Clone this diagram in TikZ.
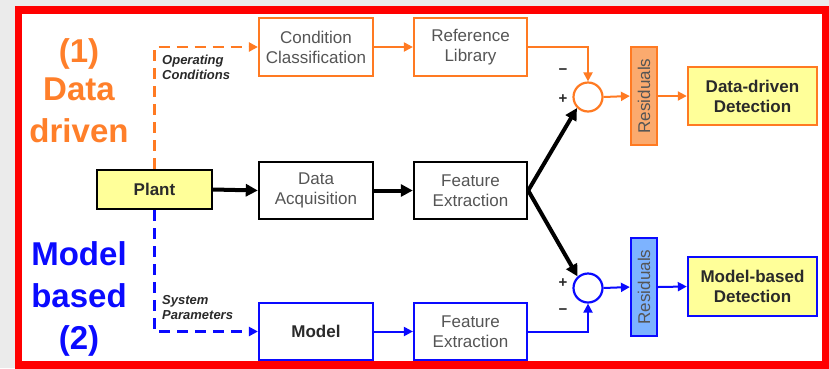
\documentclass[tikz,border=0pt]{standalone}
\usepackage{fontspec}
\setmainfont{Liberation Sans}
\usetikzlibrary{arrows.meta}
\definecolor{org}{HTML}{FF7A22}
\definecolor{orgtxt}{HTML}{FF7F2A}
\definecolor{orgfill}{HTML}{FBAA6E}
\definecolor{blu}{HTML}{0A0AFF}
\definecolor{blufill}{HTML}{7DB3FF}
\definecolor{ylw}{HTML}{FFFF99}
\definecolor{txtgray}{HTML}{555555}
\definecolor{txtdark}{HTML}{2A2A2A}
\definecolor{bggray}{HTML}{EBEBEB}
\begin{document}
\begin{tikzpicture}[x=1pt,y=-1pt,
  boxbase/.style={draw, rectangle, inner sep=0pt, align=center,
     font=\fontsize{17}{20}\selectfont},
  obox/.style={boxbase, draw=org, line width=2.2pt, fill=white, text=txtgray},
  kbox/.style={boxbase, draw=black, line width=2.4pt, fill=white, text=txtgray},
  bbox/.style={boxbase, draw=blu, line width=2.2pt, fill=white, text=txtdark},
  ydet/.style={boxbase, line width=2.4pt, fill=ylw, text=txtdark, font=\fontsize{17}{20}\selectfont\bfseries},
  resbox/.style={boxbase, line width=2.2pt, text=txtgray, rotate=90, minimum width=98pt, minimum height=26pt},
  sumc/.style={circle, draw, line width=2.2pt, fill=white, minimum size=29pt, inner sep=0pt},
  oarr/.style={draw=org, line width=2pt, -{Triangle[length=9pt,width=9pt]}},
  barr/.style={draw=blu, line width=2pt, -{Triangle[length=9pt,width=9pt]}},
  karr/.style={draw=black, line width=4pt, -{Triangle[length=12pt,width=12pt]}},
  dashline/.style={line width=2.4pt, dash pattern=on 11pt off 7pt},
  bigtxt/.style={font=\fontsize{33}{38}\selectfont\bfseries, anchor=base},
  smalllab/.style={font=\fontsize{13}{15}\selectfont\bfseries\itshape, text=txtdark, align=left, anchor=north west, inner sep=0pt},
  signtxt/.style={font=\fontsize{15}{15}\selectfont\bfseries, text=txtdark}
]
\useasboundingbox (0,0) rectangle (829,368);
\fill[bggray] (0,0) rectangle (829,368);
\draw[red, line width=7.5pt, fill=white] (18.5,10) rectangle (825.5,365);

% left titles
\node[bigtxt, text=orgtxt] (t1a) at (79,62) {(1)};
\node[bigtxt, text=orgtxt] (t1b) at (79,100) {Data};
\node[bigtxt, text=orgtxt] (t1c) at (79,142) {driven};
\node[bigtxt, text=blu] (t2a) at (79,265) {Model};
\node[bigtxt, text=blu] (t2b) at (79,307) {based};
\node[bigtxt, text=blu] (t2c) at (79,349) {(2)};

% boxes
\node[kbox, fill=ylw, text=txtdark, font=\fontsize{17}{20}\selectfont\bfseries, minimum width=115pt, minimum height=39pt] (plant) at (154.5,189.5) {Plant};
\node[obox, minimum width=114pt, minimum height=58pt] (cc) at (316,47) {Condition\\Classification};
\node[obox, minimum width=113pt, minimum height=58pt] (rl) at (470.5,47) {Reference\\Library};
\node[kbox, minimum width=114pt, minimum height=57pt] (da) at (316,190.5) {Data\\Acquisition};
\node[kbox, minimum width=113pt, minimum height=57pt] (fe) at (470.5,190.5) {Feature\\Extraction};
\node[bbox, font=\fontsize{17}{20}\selectfont\bfseries, minimum width=114pt, minimum height=57pt] (model) at (316,331.5) {Model};
\node[bbox, text=txtgray, minimum width=113pt, minimum height=57pt] (fe2) at (470.5,331.5) {Feature\\Extraction};

\node[sumc, draw=org] (c1) at (588,97) {};
\node[sumc, draw=blu] (c2) at (588,288) {};

\node[resbox, draw=org, fill=orgfill] (res1) at (644,96) {Residuals};
\node[resbox, draw=blu, fill=blufill] (res2) at (644,287) {Residuals};

\node[ydet, draw=org, minimum width=129pt, minimum height=58pt] (dd) at (752.5,96) {Data-driven\\Detection};
\node[ydet, draw=blu, minimum width=129pt, minimum height=59pt] (mb) at (752.5,286.5) {Model-based\\Detection};

% labels
\node[smalllab] (opc) at (162,55) {Operating\\Conditions};
\node[smalllab] (sysp) at (162,295) {System\\Parameters};
\node[signtxt] (m1) at (563,72) {−};
\node[signtxt] (p1) at (563,99) {+};
\node[signtxt] (p2) at (563,283) {+};
\node[signtxt] (m2) at (563,312) {−};

% connectors
\draw[oarr, dashline] (plant.north) |- (cc.west);
\draw[barr, dashline] (plant.south) |- (model.west);
\draw[oarr] (cc.east) -- (rl.west);
\draw[oarr] (rl.east) -| (c1.north);
\draw[oarr] (c1.east) -- (res1.north);
\draw[oarr] (res1.south) -- (dd.west);
\draw[barr] (model.east) -- (fe2.west);
\draw[barr] (fe2.east) -| (c2.south);
\draw[barr] (c2.east) -- (res2.north);
\draw[barr] (res2.south) -- (mb.west);
\draw[karr] (plant.east) -- (da.west);
\draw[karr] (da.east) -- (fe.west);
\draw[karr, line join=miter] (fe.east) -- (c1.225);
\draw[karr] (fe.east) -- (c2.132);
\end{tikzpicture}
\end{document}
